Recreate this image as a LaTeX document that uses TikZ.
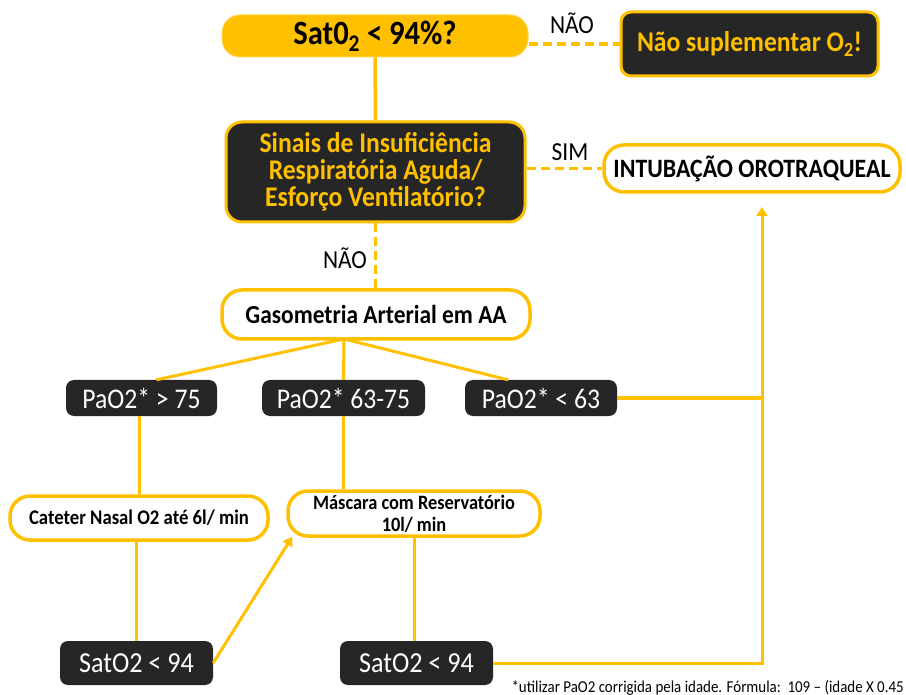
\documentclass[tikz,border=0pt]{standalone}
\usepackage{fontspec}
\setmainfont[FakeStretch=0.9]{Carlito}
\usepackage{xcolor}
\usetikzlibrary{arrows.meta}
\definecolor{amarelo}{HTML}{FFC000}
\definecolor{escuro}{HTML}{262626}
\tikzset{
  fio/.style={draw=amarelo, line width=3pt},
  tracejado/.style={draw=amarelo, line width=3.5pt, dash pattern=on 9pt off 5pt},
  caixaescura/.style={rectangle, rounded corners=10pt, fill=escuro, draw=amarelo,
    line width=3pt, text=amarelo, align=center, inner sep=0pt},
  pilula/.style={rectangle, rounded corners=20pt, fill=white, draw=amarelo,
    line width=3.5pt, text=black, align=center, inner sep=0pt},
  resultado/.style={rectangle, rounded corners=8pt, fill=escuro, text=white,
    inner sep=0pt, minimum height=36pt},
  rotulo/.style={font=\fontsize{26}{28}\selectfont}
}
\begin{document}
\begin{tikzpicture}[x=1pt, y=-1pt]
  \useasboundingbox (0,0) rectangle (906,695);
  \node[rectangle, rounded corners=18pt, fill=amarelo, draw=amarelo!70!white, line width=1pt,
    minimum width=306pt, minimum height=42pt, font=\bfseries\fontsize{34}{36}\selectfont]
    (sat) at (375,36) {Sat0\textsubscript{2} < 94\%?};
  \node[caixaescura, minimum width=257pt, minimum height=64pt,
    font=\bfseries\fontsize{28.5}{30}\selectfont]
    (naosup) at (749.5,44) {Não suplementar O\textsubscript{2}!};
  \node[caixaescura, rounded corners=16pt, minimum width=299pt, minimum height=100pt,
    font=\bfseries\fontsize{28.5}{27}\selectfont]
    (sinais) at (375.5,172) {Sinais de Insuficiência\\Respiratória Aguda/\\Esforço Ventilatório?};
  \node[pilula, minimum width=296pt, minimum height=47pt, font=\bfseries\fontsize{26.5}{28}\selectfont]
    (intub) at (752,168.5) {INTUBAÇÃO OROTRAQUEAL};
  \node[pilula, minimum width=308pt, minimum height=49pt, font=\bfseries\fontsize{26}{28}\selectfont]
    (gaso) at (376,314.5) {Gasometria Arterial em AA};

  \foreach \nome/\x/\w/\txt in {pa75/141.5/151/{PaO2* > 75},
                               pa6375/343.5/163/{PaO2* 63-75},
                               pa63/541/152/{PaO2* < 63}}{
    \node[resultado, minimum width=\w pt, font=\fontsize{28.5}{30}\selectfont]
      (\nome) at (\x,398) {\txt};
  }

  \node[pilula, minimum width=258pt, minimum height=44pt, font=\bfseries\fontsize{20.8}{22}\selectfont]
    (cateter) at (139,518) {Cateter Nasal O2 até 6l/ min};
  \node[pilula, minimum width=252pt, minimum height=45pt, font=\bfseries\fontsize{20.4}{22}\selectfont]
    (mascara) at (414,513.5) {Máscara com Reservatório\\10l/ min};

  \node[resultado, minimum width=153pt, minimum height=44pt, font=\fontsize{29}{31}\selectfont]
    (satL) at (136.5,663) {SatO2 < 94};
  \node[resultado, minimum width=153pt, minimum height=44pt, font=\fontsize{29}{31}\selectfont]
    (satR) at (416.5,663) {SatO2 < 94};

  \coordinate (ramo) at (344,339);
  \coordinate (topo) at (762,207);

  \draw[tracejado] (sat.east |- naosup) -- (naosup.west);
  \node[rotulo] (nao1) at (572,23) {NÃO};
  \draw[fio, line width=3.5pt] (sat.south) -- (sinais.north);
  \draw[tracejado] (sinais.east |- intub) -- (intub.west);
  \node[rotulo] (sim) at (570,152) {SIM};
  \draw[tracejado] (sinais.south) -- (sinais.south |- gaso.north);
  \node[rotulo] (nao2) at (345,258) {NÃO};

  \draw[fio] (ramo) -- ([xshift=15pt]pa75.north);
  \draw[fio] (ramo) -- (pa6375.north);
  \draw[fio] (ramo) -- ([xshift=-33pt]pa63.north);

  \draw[fio] (cateter.north |- pa75.south) -- (cateter.north);
  \draw[fio] (pa6375.south) -- (pa6375.south |- mascara.north);
  \draw[fio] (satL.north |- cateter.south) -- (satL.north);
  \draw[fio] (mascara.south) -- (mascara.south |- satR.north);

  \draw[fio, -{Triangle[width=11pt,length=9pt]}]
    (satL.east) -- ([shift={(6pt,1pt)}]mascara.south west);
  \draw[fio, -{Triangle[width=11pt,length=9pt]}]
    (satR.east) -| (topo);
  \draw[fio] (pa63.east) -- (pa63.east -| topo);

  \node[anchor=east, inner sep=1pt, font=\fontsize{16.6}{18}\selectfont] (nota) at (905,688)
    {*utilizar PaO2 corrigida pela idade. Fórmula:\ \ 109 – (idade X 0.45};
\end{tikzpicture}
\end{document}
